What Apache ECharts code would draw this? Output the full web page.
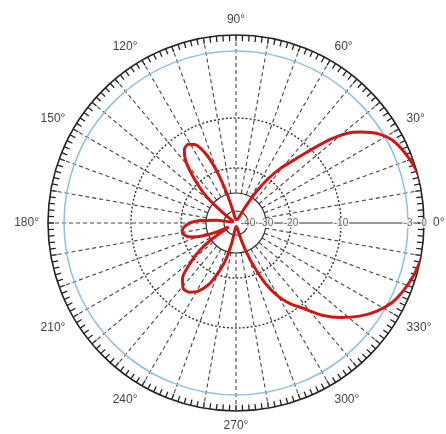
<!DOCTYPE html>
<html>
<head>
<meta charset="utf-8">
<script src="https://cdn.jsdelivr.net/npm/echarts@6/dist/echarts.min.js"></script>
<style>
html,body{margin:0;padding:0;background:#fff;}
#c{width:446px;height:434px;}
</style>
</head>
<body>
<div id="c"></div>
<script>
// Pattern data: angle (deg) and gain (dB)
var angles = [0,4,8,12,16,20,24,28,32,36,39,42,45,48,51,54,57,60,63,75,90,100,
  104,107,110,113,117,121,125,129,133,137,140,143,147,155,
  167,172,176,180,185,189,193,197,201,205,208,
  211,214,217,221,226,231,236,241,246,250,254,258,262,272,
  284,287,290,293,296,300,304,308,313,318,323,328,333,338,343,348,352,356,360];
var gainDb = [0.5,0.55,0.5,0.3,0,-0.55,-1.2,-2.1,-3.4,-4.8,-6.1,-8.1,-11,-14.5,-17,-20,-27,-37,-45,-47,-47,-46,
  -40,-30,-21,-16.5,-13.5,-12.6,-13,-15,-18.5,-24,-31,-40,-46,-47,
  -46,-36,-28,-23.5,-21,-20.2,-20.8,-23,-27.5,-35,-43,
  -40,-30,-24,-19,-15.6,-14.2,-14.3,-15.4,-17.5,-20.5,-26,-35,-45,-47,
  -45,-37,-29,-22,-17.5,-14,-11.5,-9.7,-7.8,-6.2,-4.8,-3.6,-2.4,-1.4,-0.6,0,0.4,0.55,0.5];
// radial scale rings (dB) and their labels
var ringDb = [-40,-30,-20,-10,-3,0];
var ringLabels = ['-40','-30','-20','-10','-3','0'];
var angleLabelStep = 30;

// Radial scale of the chart paper: dB -> radius units (px)
var scaleDb = [-50,-40,-30,-20,-10,-3,0];
var scaleR  = [0,12,30,55,105,172,188];
function dbToR(d){
  if (d >= 0) return 188 + d*16/3;
  for (var i=1;i<scaleDb.length;i++){
    if (d <= scaleDb[i]){
      var t=(d-scaleDb[i-1])/(scaleDb[i]-scaleDb[i-1]);
      return scaleR[i-1]+t*(scaleR[i]-scaleR[i-1]);
    }
  }
  return 0;
}
var R = 188;
var pattern = angles.map(function(a,i){ return [dbToR(gainDb[i]), a]; });
var rings = ringDb.map(function(d,i){ return [dbToR(d), 0, i]; });
var spokes = [];
for (var a=0;a<360;a+=10){ if(a!==0) spokes.push([R,a]); }
var ringStyles = [
  {stroke:'#333',lineWidth:1.2,lineDash:null},
  {stroke:'#333',lineWidth:1.2,lineDash:null},
  {stroke:'#333',lineWidth:1.4,lineDash:[2,2]},
  {stroke:'#333',lineWidth:1.4,lineDash:[2,2]},
  {stroke:'#93bde3',lineWidth:1.5,lineDash:null},
  null
];

var chart = echarts.init(document.getElementById('c'));
chart.setOption({
  animation:false,
  backgroundColor:'#fff',
  polar:{center:[236,223], radius:R},
  angleAxis:{
    type:'value', min:0, max:360, interval:2, startAngle:0, clockwise:false,
    axisLine:{show:true, lineStyle:{color:'#222', width:1.6}},
    axisTick:{show:true, inside:true, length:6, lineStyle:{color:'#222', width:1.3}},
    axisLabel:{show:true, margin:9, color:'#444', fontSize:12, fontFamily:'Liberation Sans, Arial, sans-serif',
      formatter:function(v){ return (v%angleLabelStep===0 && v<360) ? v+'°' : ''; }},
    splitLine:{show:false}
  },
  radiusAxis:{
    type:'value', min:0, max:R,
    axisLine:{show:false}, axisTick:{show:false}, axisLabel:{show:false}, splitLine:{show:false}
  },
  series:[
    {
      type:'custom', coordinateSystem:'polar', silent:true, z:1,
      data:spokes,
      renderItem:function(params, api){
        var a = api.value(1);
        var p0 = api.coord([dbToR(-30), a]);
        var p1 = api.coord([R, a]);
        return {type:'line', shape:{x1:p0[0],y1:p0[1],x2:p1[0],y2:p1[1]},
          style:{stroke:'#444', lineWidth:1.1, lineDash:[4,3]}};
      }
    },
    {
      type:'custom', coordinateSystem:'polar', silent:true, z:2,
      data:rings,
      renderItem:function(params, api){
        var st = ringStyles[api.value(2)];
        if(!st) return null;
        var c = api.coord([0,0]);
        var p = api.coord([api.value(0),0]);
        return {type:'circle', shape:{cx:c[0], cy:c[1], r:p[0]-c[0]},
          style:{fill:null, stroke:st.stroke, lineWidth:st.lineWidth, lineDash:st.lineDash}};
      }
    },
    {
      type:'line', coordinateSystem:'polar', silent:true, z:3, symbol:'none',
      data:[[dbToR(-40),0],[R,0]],
      lineStyle:{color:'#333', width:1.2}
    },
    {
      type:'scatter', coordinateSystem:'polar', silent:true, z:4, symbol:'circle', symbolSize:2,
      itemStyle:{color:'rgba(255,255,255,0)'},
      data:rings,
      label:{show:true, position:'inside', fontSize:10, color:'#444', backgroundColor:'#fff', padding:[0,1],
        fontFamily:'Liberation Sans, Arial, sans-serif',
        formatter:function(p){ return ringLabels[p.data[2]]; }}
    },
    {
      type:'line', coordinateSystem:'polar', z:10, symbol:'none', smooth:0.25,
      data:pattern,
      lineStyle:{color:'#d21616', width:3}
    }
  ]
});
</script>
</body>
</html>
